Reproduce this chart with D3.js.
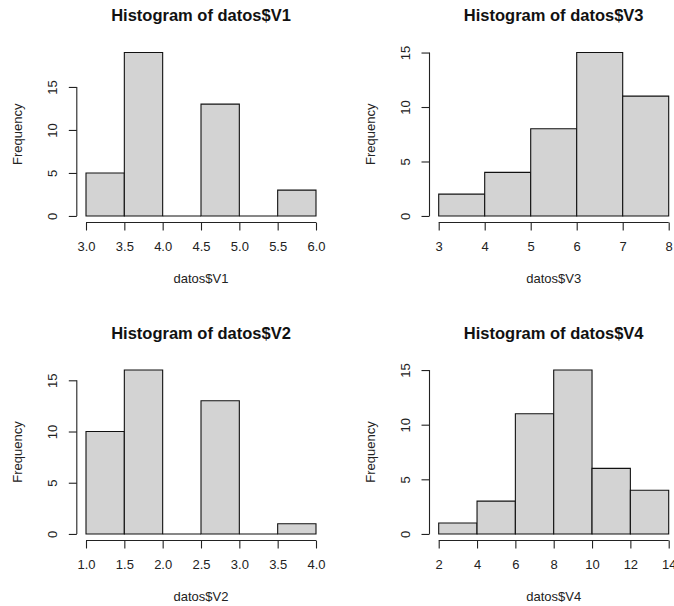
<!DOCTYPE html>
<html>
<head>
<meta charset="utf-8">
<script src="https://cdn.jsdelivr.net/npm/d3@7"></script>
<style>
  body { margin: 0; background: #fff; }
  svg { display: block; font-family: "Liberation Sans", Arial, sans-serif; }
</style>
</head>
<body>
<div id="chart"></div>
<script>
// histogram data (bin breaks + counts)
const v1Breaks = [3.0, 3.5, 4.0, 4.5, 5.0, 5.5, 6.0];
const v1Counts = [5, 19, 0, 13, 0, 3];
const v3Breaks = [3, 4, 5, 6, 7, 8];
const v3Counts = [2, 4, 8, 15, 11];
const v2Breaks = [1.0, 1.5, 2.0, 2.5, 3.0, 3.5, 4.0];
const v2Counts = [10, 16, 0, 13, 0, 1];
const v4Breaks = [2, 4, 6, 8, 10, 12, 14];
const v4Counts = [1, 3, 11, 15, 6, 4];

// tick labels
const v1Ticks = ["3.0", "3.5", "4.0", "4.5", "5.0", "5.5", "6.0"];
const v3Ticks = ["3", "4", "5", "6", "7", "8"];
const v2Ticks = ["1.0", "1.5", "2.0", "2.5", "3.0", "3.5", "4.0"];
const v4Ticks = ["2", "4", "6", "8", "10", "12", "14"];
const yTicks = [0, 5, 10, 15];

const width = 674;
const height = 606;

const svg = d3.select("#chart")
    .append("svg")
    .attr("width", width)
    .attr("height", height);

// plot regions (R "plt") for the 2x2 layout
const cols = [[76.8, 325.2], [429.5, 677.9]];
const rows = [[46, 222.5], [363.5, 540.5]];

function drawHist(col, row, title, xlab, breaks, counts, xTicks) {
    const [px0, px1] = cols[col];
    const [py0, py1] = rows[row];

    const xMin = d3.min(breaks), xMax = d3.max(breaks);
    const xr = xMax - xMin;
    const yMax = d3.max(counts);

    const x = d3.scaleLinear()
        .domain([xMin - 0.04 * xr, xMax + 0.04 * xr])
        .range([px0, px1]);
    const y = d3.scaleLinear()
        .domain([-0.04 * yMax, yMax * 1.04])
        .range([py1, py0]);

    const g = svg.append("g");

    // bars (paths so that empty bins still show as a line on 0)
    g.selectAll("path.bar")
        .data(counts)
        .join("path")
        .attr("class", "bar")
        .attr("d", (d, i) => `M${x(breaks[i])},${y(0)}V${y(d)}H${x(breaks[i + 1])}V${y(0)}Z`)
        .attr("fill", "#d3d3d3")
        .attr("stroke", "#111")
        .attr("stroke-width", 1.1);

    // x axis
    const xAxis = d3.axisBottom(x)
        .tickValues(breaks)
        .tickFormat((d, i) => xTicks[i])
        .tickSize(8)
        .tickPadding(11.5);
    const gx = g.append("g")
        .attr("transform", `translate(0,${py1})`)
        .call(xAxis);
    gx.select(".domain").remove();
    gx.append("line")
        .attr("x1", x(breaks[0]))
        .attr("x2", x(breaks[breaks.length - 1]))
        .attr("stroke", "#222");
    gx.selectAll("line").attr("stroke", "#222").attr("stroke-width", 1.1);
    gx.selectAll("text")
        .attr("font-size", 13)
        .attr("font-family", "Liberation Sans, Arial, sans-serif")
        .attr("fill", "#222");

    // y axis
    const yAxis = d3.axisLeft(y)
        .tickValues(yTicks)
        .tickSize(8);
    const gy = g.append("g")
        .attr("transform", `translate(${px0},0)`)
        .call(yAxis);
    gy.select(".domain").remove();
    gy.append("line")
        .attr("y1", y(yTicks[0]))
        .attr("y2", y(yTicks[yTicks.length - 1]))
        .attr("stroke", "#222");
    gy.selectAll("line").attr("stroke", "#222").attr("stroke-width", 1.1);
    gy.selectAll("text")
        .attr("transform", "rotate(-90)")
        .attr("x", 0)
        .attr("y", -20)
        .attr("dy", null)
        .attr("text-anchor", "middle")
        .attr("font-size", 13)
        .attr("font-family", "Liberation Sans, Arial, sans-serif")
        .attr("fill", "#222");

    const cx = (px0 + px1) / 2;
    const cy = (py0 + py1) / 2;

    // title
    g.append("text")
        .attr("x", cx)
        .attr("y", py0 - 25)
        .attr("text-anchor", "middle")
        .attr("font-size", 16.5)
        .attr("font-weight", "bold")
        .attr("fill", "#111")
        .text(title);

    // x label
    g.append("text")
        .attr("x", cx)
        .attr("y", py1 + 60.5)
        .attr("text-anchor", "middle")
        .attr("font-size", 13)
        .attr("fill", "#222")
        .text(xlab);

    // y label
    g.append("text")
        .attr("transform", `translate(${px0 - 54.5},${cy}) rotate(-90)`)
        .attr("text-anchor", "middle")
        .attr("font-size", 13)
        .attr("fill", "#222")
        .text("Frequency");
}

drawHist(0, 0, "Histogram of datos$V1", "datos$V1", v1Breaks, v1Counts, v1Ticks);
drawHist(1, 0, "Histogram of datos$V3", "datos$V3", v3Breaks, v3Counts, v3Ticks);
drawHist(0, 1, "Histogram of datos$V2", "datos$V2", v2Breaks, v2Counts, v2Ticks);
drawHist(1, 1, "Histogram of datos$V4", "datos$V4", v4Breaks, v4Counts, v4Ticks);
</script>
</body>
</html>
